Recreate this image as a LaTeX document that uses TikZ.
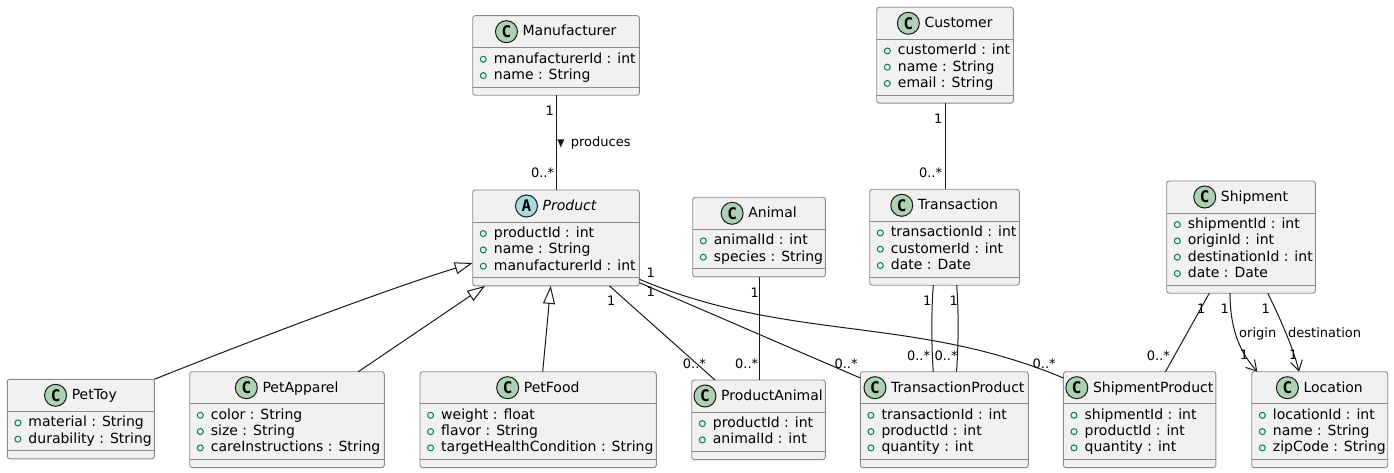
\documentclass[tikz,border=0pt]{standalone}
\usepackage{fontspec}
\setmainfont{DejaVu Sans}
\newfontfamily\monob{DejaVu Sans Mono}
\usetikzlibrary{calc,arrows.meta}
\definecolor{lineC}{HTML}{181818}
\definecolor{borderC}{HTML}{8A8A8A}
\definecolor{boxF}{HTML}{F1F1F1}
\definecolor{markC}{HTML}{038048}
\definecolor{classC}{HTML}{ADD1B2}
\definecolor{absC}{HTML}{A9DCDF}
\tikzset{
  classbox/.style={draw=borderC, line width=0.9bp, fill=boxF, rounded corners=2.5bp, inner sep=0pt, outer sep=0pt, anchor=north west},
  sepline/.style={draw=borderC, line width=0.9bp},
  titletext/.style={font=\fontsize{14bp}{16bp}\selectfont, inner sep=0pt, anchor=base},
  attrtext/.style={font=\fontsize{14bp}{16bp}\selectfont, inner sep=0pt, anchor=base west},
  marker/.style={circle, draw=markC, line width=1bp, minimum size=6bp, inner sep=0pt},
  badge/.style={circle, draw=lineC, line width=1bp, minimum size=22bp, inner sep=0pt, font=\monob\bfseries\fontsize{16bp}{16bp}\selectfont},
  conn/.style={draw=lineC, line width=1bp},
  inherit/.style={conn, -{Triangle[length=18bp, width=12bp, fill=white]}},
  navi/.style={conn, -{Straight Barb[length=10bp, width=12bp]}},
  mult/.style={font=\fontsize{13bp}{15bp}\selectfont, inner sep=0pt, text=black},
}
\newcommand\umlclass[9]{%
  \pgfmathsetmacro\umlh{32+#5*16.3+15}%
  \node[classbox, minimum width=#4bp, minimum height=\umlh bp] (#1) at (#2,#3) {};
  \draw[sepline] ($(#1.north west)+(0,32)$) -- ($(#1.north east)+(0,32)$);
  \draw[sepline] ($(#1.north west)+(0,39+#5*16.3)$) -- ($(#1.north east)+(0,39+#5*16.3)$);
  \node[titletext] (#1-title) at ($(#1.north)+(13.5,20.3)$) {#8};
  \node[badge, fill=#7] (#1-badge) at ($(#1-title.west |- #1.north)+(-16,16)$) {#6};
  \foreach \a [count=\i] in {#9} {
    \node[marker] (#1-m\i) at ($(#1.north west)+(10.6,27.3+16.3*\i)$) {};
    \node[attrtext] (#1-a\i) at ($(#1.north west)+(21,31.3+16.3*\i)$) {\a};
  }%
}
\begin{document}
\begin{tikzpicture}[x=1bp,y=-1bp]
\useasboundingbox (0,0) rectangle (1394,473);
% classes
\umlclass{manu}{472.7}{15.7}{166.7}{2}{C}{classC}{Manufacturer}{manufacturerId : int, name : String}
\umlclass{cust}{876.7}{7.3}{136.7}{3}{C}{classC}{Customer}{customerId : int, name : String, email : String}
\umlclass{prod}{472.7}{190}{166.7}{3}{A}{absC}{\itshape Product}{productId : int, name : String, manufacturerId : int}
\umlclass{animal}{692.7}{197.3}{132.7}{2}{C}{classC}{Animal}{animalId : int, species : String}
\umlclass{trans}{869.7}{189.3}{149.6}{3}{C}{classC}{Transaction}{transactionId : int, customerId : int, date : Date}
\umlclass{ship}{1166.7}{181}{148.6}{4}{C}{classC}{Shipment}{shipmentId : int, originId : int, destinationId : int, date : Date}
\umlclass{pettoy}{7.3}{379.3}{147}{2}{C}{classC}{PetToy}{material : String, durability : String}
\umlclass{petapp}{189.7}{371.7}{194.6}{3}{C}{classC}{PetApparel}{color : String, size : String, careInstructions : String}
\umlclass{petfood}{420}{371.7}{236.3}{3}{C}{classC}{PetFood}{weight : float, flavor : String, targetHealthCondition : String}
\umlclass{pa}{691.7}{380}{133.6}{2}{C}{classC}{ProductAnimal}{productId : int, animalId : int}
\umlclass{tp}{860.3}{371.7}{168}{3}{C}{classC}{TransactionProduct}{transactionId : int, productId : int, quantity : int}
\umlclass{sp}{1063.4}{371.7}{152.5}{3}{C}{classC}{ShipmentProduct}{shipmentId : int, productId : int, quantity : int}
\umlclass{loc}{1251.7}{371.7}{136}{3}{C}{classC}{Location}{locationId : int, name : String, zipCode : String}
% connectors
\draw[conn] (manu.south) -- (prod.north);
\draw[conn] (cust.south) -- (cust.south |- trans.north);
\draw[inherit] (pettoy.north east) .. controls +(95.7,-38.3) and +(-82.7,25) .. ($(prod.north west)+(0,73)$);
\draw[inherit] ($(petapp.north west)+(168.6,0)$) -- ($(prod.south west)+(12.3,0)$);
\draw[inherit] ($(petfood.north west)+(122.7,0)$) -- ($(prod.south west)+(78,0)$);
\draw[conn] ($(prod.south east)+(-30,0)$) -- ($(pa.north west)+(23.3,0)$);
\draw[conn] ($(prod.south east)+(0,-3.2)$) -- ($(tp.north west)+(0,6.3)$);
\draw[conn] ($(prod.south east)+(0,-6.6)$) .. controls +(150,63) and +(-150,-63) .. ($(sp.north west)+(0,6.3)$);
\draw[conn] (animal.south) -- (animal.south |- pa.north);
\draw[conn] ($(trans.south west)+(63.6,0)$) .. controls +(-2,25) and +(-2,-25) .. ($(tp.north west)+(73,0)$);
\draw[conn] ($(trans.south west)+(87,0)$) .. controls +(2,25) and +(2,-25) .. ($(tp.north west)+(96.2,0)$);
\draw[conn] ($(ship.south west)+(42.6,0)$) -- ($(sp.north west)+(102.1,0)$);
\draw[navi] ($(ship.south west)+(63.3,0)$) .. controls +(0,40) and +(-15,-17) .. ($(loc.north west)+(5.6,0)$);
\draw[navi] ($(ship.south west)+(101,0)$) .. controls +(10,20) and +(-6,-25) .. ($(loc.north west)+(47.3,0)$);
% labels
\node[mult, anchor=base east] (l1) at (554,116) {1};
\node[mult, anchor=base east] (l2) at (554.3,177.5) {0..*};
\fill[lineC] (557.3,139.3) -- (564.3,139.3) -- (560.8,147.3) -- cycle;
\node[mult, anchor=base west] (l3) at (570.7,147) {produces};
\node[mult, anchor=base east] (l4) at (942.7,124) {1};
\node[mult, anchor=base east] (l5) at (942.3,178) {0..*};
\node[mult, anchor=base west] (l6) at (607,306) {1};
\node[mult, anchor=base west] (l7) at (682.7,368.5) {0..*};
\node[mult, anchor=base west] (l8) at (750.5,298) {1};
\node[mult, anchor=base west] (l9) at (735,368.5) {0..*};
\node[mult, anchor=base west] (l10) at (646.5,277.3) {1};
\node[mult, anchor=base west] (l11) at (646.5,296.7) {1};
\node[mult, anchor=base west] (l12) at (834.3,368.5) {0..*};
\node[mult, anchor=base west] (l13) at (1032.4,368.5) {0..*};
\node[mult, anchor=base west] (l14) at (922.8,306) {1};
\node[mult, anchor=base west] (l15) at (949.5,306) {1};
\node[mult, anchor=base west] (l16) at (906.8,360) {0..*};
\node[mult, anchor=base west] (l17) at (934.3,360) {0..*};
\node[mult, anchor=base west] (l18) at (1196.8,313.3) {1};
\node[mult, anchor=base west] (l19) at (1146.7,360) {0..*};
\node[mult, anchor=base west] (l20) at (1220.5,313.3) {1};
\node[mult, anchor=base west] (l21) at (1239,337.3) {origin};
\node[mult, anchor=base west] (l22) at (1239.8,359.3) {1};
\node[mult, anchor=base west] (l23) at (1261.5,313.3) {1};
\node[mult, anchor=base west] (l24) at (1288,337.3) {destination};
\node[mult, anchor=base west] (l25) at (1288.8,359.3) {1};
\end{tikzpicture}
\end{document}
